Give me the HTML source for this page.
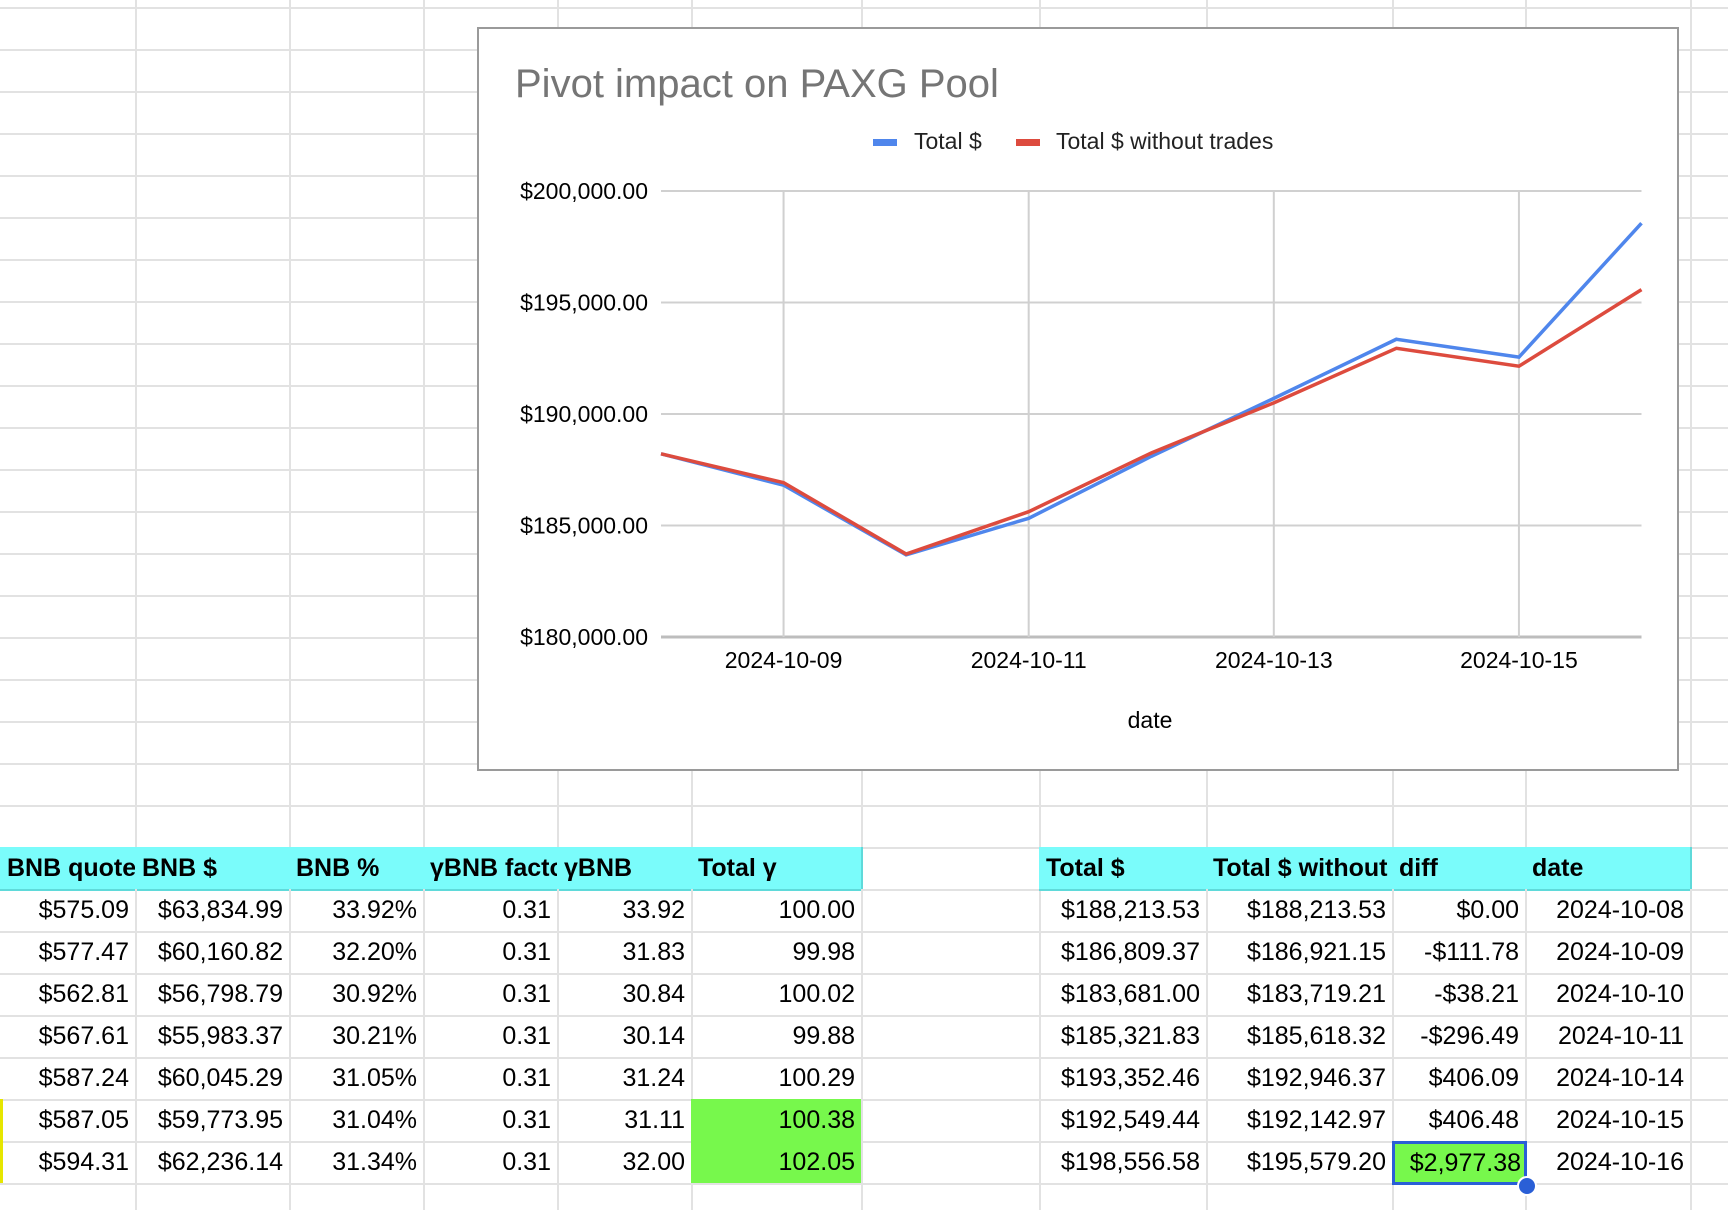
<!DOCTYPE html>
<html><head><meta charset="utf-8"><style>
body{margin:0;width:1728px;height:1210px;position:relative;overflow:hidden;background:#fff;font-family:"Liberation Sans",Arial,sans-serif}
.gl{position:absolute;background:#e2e2e2}
.c{position:absolute;height:42px;line-height:42px;font-size:25px;color:#000;box-sizing:border-box;white-space:nowrap;overflow:hidden;border-right:2px solid #e2e2e2;border-bottom:2px solid #e2e2e2}
.h{background:#7afcfb;font-weight:bold;text-align:left;padding-left:7px;border-color:#5fdada}
.n{text-align:right;padding-right:6px}
.g{background:#77f84c}
#chart{position:absolute;left:477px;top:27px;width:1202px;height:744px;border:2px solid #9a9a9a;box-sizing:border-box;background:#fff}
</style></head><body>
<div id="grid"></div>
<div id="chart"></div>
<svg id="svg" width="1728" height="1210" style="position:absolute;left:0;top:0"></svg>
<div id="table"></div>
<script>
const dates=["2024-10-08","2024-10-09","2024-10-10","2024-10-11","2024-10-12","2024-10-13","2024-10-14","2024-10-15","2024-10-16"];
const totalSeries=[188213.53,186809.37,183681.00,185321.83,188100,190700,193352.46,192549.44,198556.58];
const noTradeSeries=[188213.53,186921.15,183719.21,185618.32,188250,190500,192946.37,192142.97,195579.20];
const yTicks=[180000,185000,190000,195000,200000];
const xTickIdx=[1,3,5,7];

const NS="http://www.w3.org/2000/svg";
const svg=document.getElementById('svg');
function el(t,a){const e=document.createElementNS(NS,t);for(const k in a)e.setAttribute(k,a[k]);svg.appendChild(e);return e;}
const X0=661,X1=1641.5,Y0=637,Y1=191;
const xs=i=>X0+(X1-X0)*i/(dates.length-1);
const ys=v=>Y0-(v-180000)/(200000-180000)*(Y0-Y1);

const grid=document.getElementById('grid');
const cols=[0,135,289,423,557,691,861,1039,1206,1392,1525,1690];
for(let y=7;y<1210;y+=42){const d=document.createElement('div');d.className='gl';d.style.cssText=`left:0;top:${y}px;width:1728px;height:2px`;

grid.appendChild(d);}
cols.slice(1).forEach(x=>{const d=document.createElement('div');d.className='gl';d.style.cssText=`left:${x}px;top:0;width:2px;height:1210px`;

grid.appendChild(d);});

let t=el('text',{x:515,y:97,'font-size':40,fill:'#757575'});t.textContent='Pivot impact on PAXG Pool';


el('rect',{x:873,y:139,width:24,height:7,fill:'#4f86ec',});
t=el('text',{x:914,y:149,'font-size':23,fill:'#222'});t.textContent='Total $';


el('rect',{x:1016,y:139,width:24,height:7,fill:'#dd4b3e',});
t=el('text',{x:1056,y:149,'font-size':23,fill:'#222'});t.textContent='Total $ without trades';


yTicks.forEach(v=>{const l=el('line',{x1:X0,x2:X1,y1:ys(v),y2:ys(v),stroke:v==180000?'#bdbdbd':'#d0d0d0','stroke-width':v==180000?3:2});


const tx=el('text',{x:648,y:ys(v)+8,'font-size':23,'text-anchor':'end',fill:'#000'});tx.textContent='$'+v.toLocaleString('en-US')+'.00';

});
xTickIdx.forEach(i=>{const l=el('line',{x1:xs(i),x2:xs(i),y1:Y1,y2:Y0,stroke:'#d0d0d0','stroke-width':2});


const tx=el('text',{x:xs(i),y:668,'font-size':23,'text-anchor':'middle',fill:'#000'});tx.textContent=dates[i];

});
t=el('text',{x:1150,y:728,'font-size':23,'text-anchor':'middle',fill:'#000'});t.textContent='date';


let p=el('polyline',{points:totalSeries.map((v,i)=>xs(i)+','+ys(v)).join(' '),fill:'none',stroke:'#4f86ec','stroke-width':3.5});


p=el('polyline',{points:noTradeSeries.map((v,i)=>xs(i)+','+ys(v)).join(' '),fill:'none',stroke:'#dd4b3e','stroke-width':3.5});



const tbl=document.getElementById('table');
const leftHead=["BNB quote","BNB $","BNB %","γBNB factor","γBNB","Total γ"];
const rightHead=["Total $","Total $ without trades","diff","date"];
const leftRows=[["$575.09","$63,834.99","33.92%","0.31","33.92","100.00"],["$577.47","$60,160.82","32.20%","0.31","31.83","99.98"],["$562.81","$56,798.79","30.92%","0.31","30.84","100.02"],["$567.61","$55,983.37","30.21%","0.31","30.14","99.88"],["$587.24","$60,045.29","31.05%","0.31","31.24","100.29"],["$587.05","$59,773.95","31.04%","0.31","31.11","100.38"],["$594.31","$62,236.14","31.34%","0.31","32.00","102.05"]];
const rightRows=[["$188,213.53","$188,213.53","$0.00","2024-10-08"],["$186,809.37","$186,921.15","-$111.78","2024-10-09"],["$183,681.00","$183,719.21","-$38.21","2024-10-10"],["$185,321.83","$185,618.32","-$296.49","2024-10-11"],["$193,352.46","$192,946.37","$406.09","2024-10-14"],["$192,549.44","$192,142.97","$406.48","2024-10-15"],["$198,556.58","$195,579.20","$2,977.38","2024-10-16"]];
function cell(x,w,y,txt,cls){const d=document.createElement('div');d.className='c '+cls;d.style.left=x+'px';d.style.top=y+'px';d.style.width=(w+2)+'px';d.style.height='44px';d.textContent=txt;

tbl.appendChild(d);return d;}
const lc=[0,135,289,423,557,691,861],rc=[1039,1206,1392,1525,1690];
leftHead.forEach((h,i)=>cell(lc[i],lc[i+1]-lc[i],847,h,'h'));
rightHead.forEach((h,i)=>cell(rc[i],rc[i+1]-rc[i],847,h,'h'));
leftRows.forEach((r,j)=>r.forEach((v,i)=>cell(lc[i],lc[i+1]-lc[i],889+42*j,v,'n'+(i==5&&j>=5?' g':''))));
rightRows.forEach((r,j)=>r.forEach((v,i)=>{const d=cell(rc[i],rc[i+1]-rc[i],889+42*j,v,'n'+(i==2&&j==6?' g':''));if(i==2&&j==6){d.style.border='3px solid #2a5fd6';d.style.lineHeight='38px';d.style.paddingRight='3px';}}));
const dot=document.createElement('div');dot.style.cssText='position:absolute;left:1517px;top:1176px;width:16px;height:16px;border-radius:50%;background:#2a5fd6;border:2px solid #fff';

tbl.appendChild(dot);
const ym=document.createElement('div');ym.style.cssText='position:absolute;left:0;top:1099px;width:3px;height:84px;background:#e6e600';

tbl.appendChild(ym);
</script>
</body></html>
